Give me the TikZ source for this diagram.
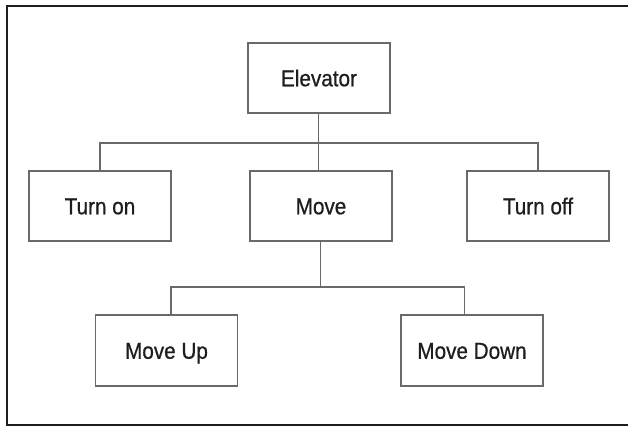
\documentclass[tikz,border=0pt]{standalone}
\usepackage{fontspec}
\setmainfont[FakeStretch=0.9,FakeBold=0.7]{Liberation Sans}
\definecolor{boxline}{HTML}{6A6A6A}
\definecolor{txt}{HTML}{1E1E1E}
\definecolor{frame}{HTML}{1E1E1E}
\begin{document}
\begin{tikzpicture}[x=1pt,y=-1pt,
  box/.style={draw=boxline, line width=1.4pt, minimum width=142pt, minimum height=70pt,
    inner sep=0pt, text=txt, font=\fontsize{23}{27}\selectfont, text height=16.5pt, text depth=0pt},
  conn/.style={draw=boxline, line width=1.4pt}]
\useasboundingbox (0,0) rectangle (628,426);
\fill[white] (0,0) rectangle (628,426);
\draw[frame, line width=2.2pt] (628,6) -- (7,6) -- (7,425) -- (628,425);
\node[box] (elev) at (319,78) {Elevator};
\node[box] (turnon) at (100,206) {Turn on};
\node[box] (move) at (321,206) {Move};
\node[box] (turnoff) at (538,206) {Turn off};
\node[box, minimum height=71pt] (moveup) at (166.5,350.5) {Move Up};
\node[box, minimum height=71pt] (movedown) at (472,350.5) {Move Down};
\coordinate (j1) at ([xshift=-0.3pt]elev.south |- 0,143);
\coordinate (j2) at ([xshift=-0.3pt]move.south |- 0,287);
\draw[conn] ([xshift=-0.3pt]elev.south) -- ([xshift=-0.3pt]elev.south |- move.north);
\draw[conn] (turnon.north) |- (j1) -| (turnoff.north);
\draw[conn] ([xshift=-0.3pt]move.south) -- (j2);
\draw[conn] ([xshift=4.5pt]moveup.north) |- (j2) -| ([xshift=-7.3pt]movedown.north);
\end{tikzpicture}
\end{document}
